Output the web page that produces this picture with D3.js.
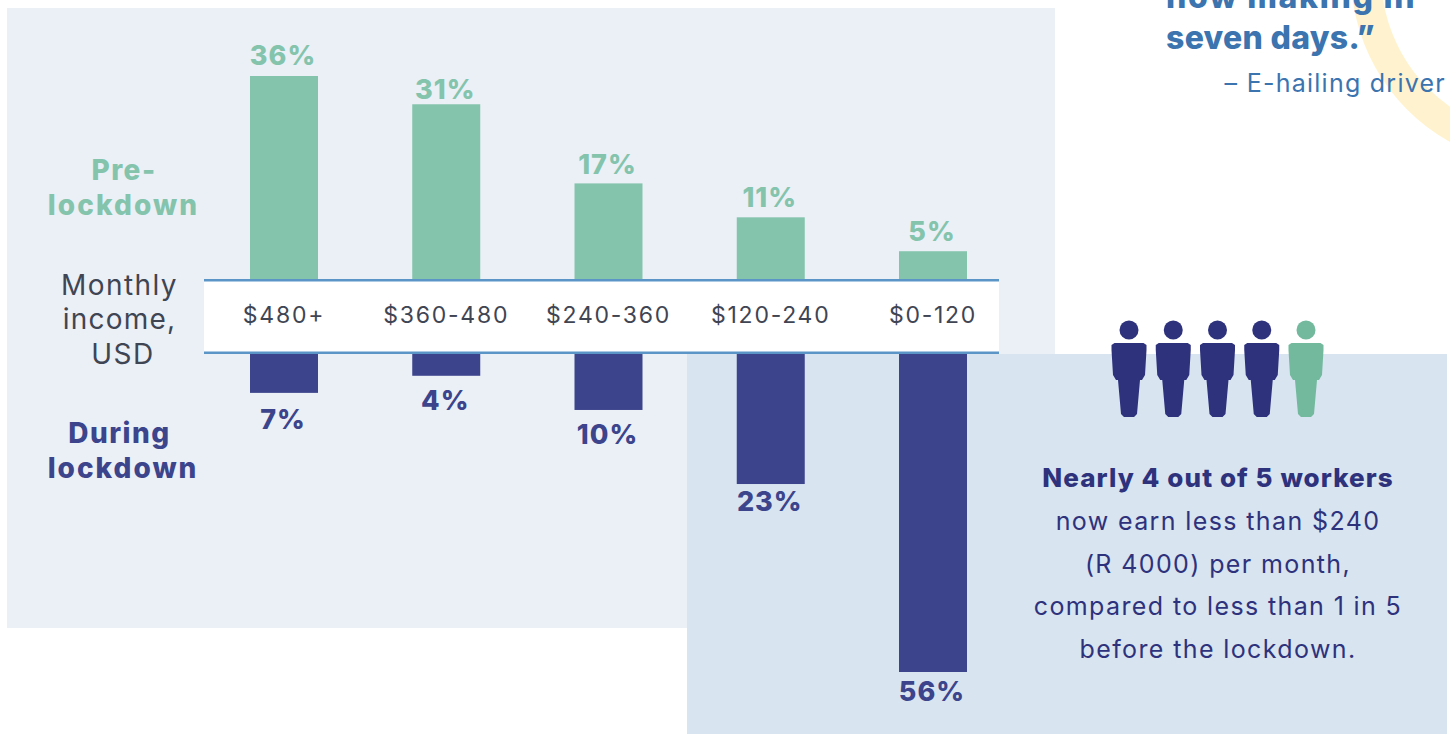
<!DOCTYPE html>
<html><head><meta charset="utf-8">
<script src="https://cdn.jsdelivr.net/npm/d3@7"></script>
<style>html,body{margin:0;padding:0;background:#fff}svg{display:block}text{font-family:Inter,"Open Sans",sans-serif}</style>
</head><body><svg id="c" width="1450" height="734"></svg>
<script>
const categories=["$480+","$360-480","$240-360","$120-240","$0-120"];
const preLockdown=[36,31,17,11,5];
const duringLockdown=[7,4,10,23,56];
const people=["now","now","now","now","before"];
const calloutLines=["now earn less than $240","(R 4000) per month,","compared to less than 1 in 5","before the lockdown."];

const svg=d3.select("#c");
const rect=(x,y,w,h,f)=>svg.append("rect").attr("x",x).attr("y",y).attr("width",w).attr("height",h).attr("fill",f);
const label=(t,x,y,size,weight,fill,extra)=>svg.append("text").attr("x",x).attr("y",y).attr("text-anchor",extra&&extra.anchor||"middle")
  .attr("font-size",size).attr("font-weight",weight).attr("fill",fill).attr("letter-spacing",extra&&extra.ls||0).text(t);

const GREEN="#84c4ac",NAVY="#3c448c",TEAL="#5b95c8",BLUE="#3b74ae",INK="#3f4552",PANEL="#ebf0f7",PANEL2="#d8e4f0";

// yellow arc behind the quote
svg.append("path").attr("d",d3.arc()({innerRadius:162,outerRadius:192,startAngle:Math.PI*0.9,endAngle:Math.PI*1.6}))
  .attr("transform","translate(1543,-26)").attr("fill","#fff3cf");

rect(7,8,1048,620,PANEL);
rect(687,354,760,380,PANEL2);

const x=d3.scalePoint().domain(categories).range([284,933]);
const yUp=d3.scaleLinear().domain([0,36]).range([279.5,76]);
const yDown=d3.scaleLinear().domain([0,56]).range([353,672]);
const barW=68;
const upGap=[11,5.5,9.5,10.5,10.5], downGap=[36,34,34,27,29];

svg.append("g").selectAll("rect").data(categories).join("rect")
  .attr("x",d=>x(d)-barW/2).attr("width",barW)
  .attr("y",(d,i)=>yUp(preLockdown[i])).attr("height",(d,i)=>yUp(0)-yUp(preLockdown[i])+1).attr("fill",GREEN);
svg.append("g").selectAll("rect").data(categories).join("rect")
  .attr("x",d=>x(d)-barW/2).attr("width",barW)
  .attr("y",yDown(0)).attr("height",(d,i)=>yDown(duringLockdown[i])-yDown(0)).attr("fill",NAVY);

svg.append("g").selectAll("text").data(categories).join("text")
  .attr("x",d=>x(d)-1).attr("y",(d,i)=>yUp(preLockdown[i])-upGap[i])
  .attr("text-anchor","middle").attr("font-size",27).attr("font-weight",800).attr("fill",GREEN).attr("letter-spacing",1)
  .text((d,i)=>preLockdown[i]+"%");
svg.append("g").selectAll("text").data(categories).join("text")
  .attr("x",d=>x(d)-1).attr("y",(d,i)=>yDown(duringLockdown[i])+downGap[i])
  .attr("text-anchor","middle").attr("font-size",27).attr("font-weight",800).attr("fill",NAVY).attr("letter-spacing",1)
  .text((d,i)=>duringLockdown[i]+"%");

// axis band
rect(204,280,795,73,"#fff");
rect(204,279,795,2.5,TEAL);
rect(204,351.5,795,2.5,TEAL);
const axis=d3.axisBottom(x).tickSize(0).tickPadding(0);
const ax=svg.append("g").attr("transform","translate(0,307)").call(axis);
ax.select(".domain").remove();
ax.selectAll("text").attr("font-size",23).attr("font-weight",400).attr("fill",INK).attr("letter-spacing",1.75)
  .attr("font-family","Inter,'Open Sans',sans-serif").attr("dx",-0.5);

// side labels
label("Pre-",124,180,28,800,GREEN,{ls:1.5});
label("lockdown",123.5,215,28,800,GREEN,{ls:2.1});
label("Monthly",119.5,295,28,400,INK,{ls:1.4});
label("income,",119.5,329,28,400,INK,{ls:1.2});
label("USD",123,364,28,400,INK,{ls:1.5});
label("During",119.5,443,28,800,NAVY,{ls:1.5});
label("lockdown",123,478,28,800,NAVY,{ls:2});

// quote fragment
label("now making in",1166,8,32,800,BLUE,{anchor:"start",ls:1.7});
label("seven days.”",1166,49,32,800,BLUE,{anchor:"start",ls:0.3});
label("– E-hailing driver",1446,92,25,400,BLUE,{anchor:"end",ls:1.25});

// pictogram
const px=d3.scalePoint().domain(d3.range(people.length)).range([1129,1306]);
const pc=d3.scaleOrdinal().domain(["now","before"]).range(["#2e327c","#72b99d"]);
const body=d3.line().curve(d3.curveLinear)([[-14.5,13],[14.5,13],[17.5,15],[17.5,20],[16,45],[13,50],[11,50],[8,84],[5,87],[-5,87],[-8,84],[-11,50],[-13,50],[-16,45],[-17.5,20],[-17.5,15]])+"Z";
const g=svg.append("g").selectAll("g").data(people).join("g")
  .attr("transform",(d,i)=>`translate(${px(i)},330)`).attr("fill",d=>pc(d));
g.append("circle").attr("r",9.5);
g.append("path").attr("d",body);

// callout
label("Nearly 4 out of 5 workers",1218,487,26,800,"#2e327c",{ls:1.08});
svg.append("g").selectAll("text").data(calloutLines).join("text")
  .attr("x",1218).attr("y",(d,i)=>530+i*42.7).attr("text-anchor","middle").attr("letter-spacing",1.38)
  .attr("font-size",25).attr("font-weight",400).attr("fill","#2e327c").text(d=>d);
</script></body></html>
